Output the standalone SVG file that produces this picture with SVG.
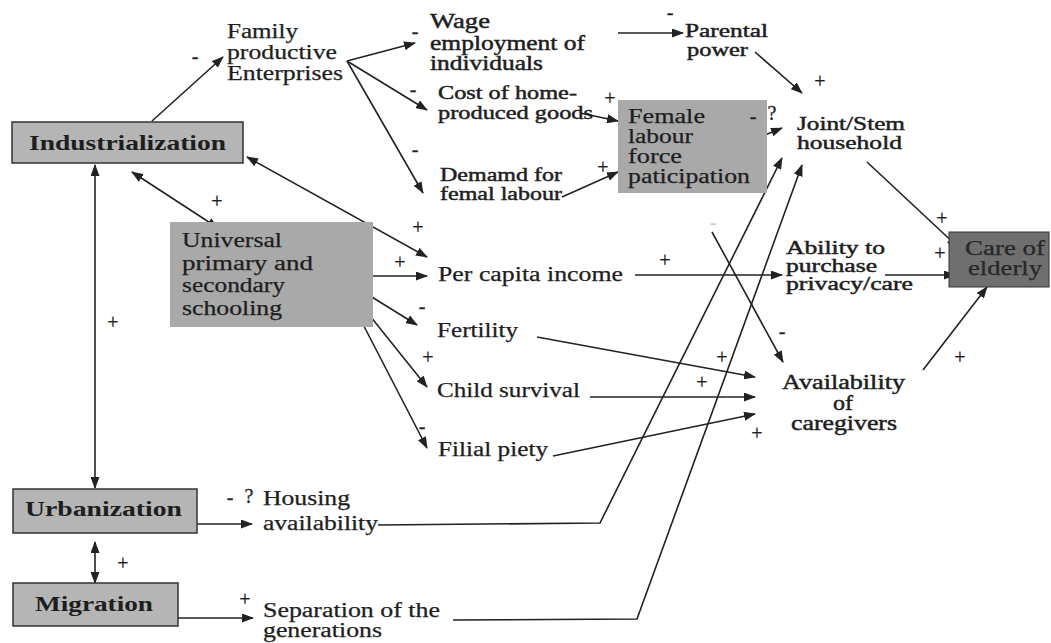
<svg xmlns="http://www.w3.org/2000/svg" width="1051" height="643" viewBox="0 0 1051 643">
<style>
text{font-family:"Liberation Serif","Times New Roman",serif;fill:#1e1e1e}
.t{font-size:20px;stroke:#1e1e1e;stroke-width:0.25}
.m{font-size:20px;stroke:#1e1e1e;stroke-width:0.45}
.n{font-size:18px}
.b{font-size:21px;font-weight:bold}
.s{font-size:20px;text-anchor:middle;dominant-baseline:central;stroke:#1e1e1e;stroke-width:0.3}
.ln{fill:none;stroke:#222;stroke-width:1.6}
.a{marker-end:url(#ah)}
.d{marker-start:url(#ah);marker-end:url(#ah)}
.boxL{fill:#b5b5b5;stroke:#333;stroke-width:1.5}
.boxM{fill:#a9a9a9}
.boxD{fill:#6f6f6f;stroke:#333;stroke-width:1}
</style>
<defs>
<marker id="ah" markerUnits="userSpaceOnUse" markerWidth="12" markerHeight="9" refX="11" refY="4.5" orient="auto-start-reverse">
<path d="M0,0 L12,4.5 L0,9 z" fill="#222"/>
</marker>
</defs>
<rect width="1051" height="643" fill="#fff"/>

<g id="connectors">
<line class="ln a" x1="152" y1="121" x2="223" y2="57"/>
<line class="ln a" x1="347" y1="61" x2="415" y2="43"/>
<line class="ln a" x1="347" y1="61" x2="427" y2="110"/>
<line class="ln a" x1="347" y1="61" x2="423" y2="193"/>
<line class="ln a" x1="618" y1="33" x2="683" y2="33"/>
<line class="ln a" x1="755" y1="52" x2="802" y2="93"/>
<line class="ln a" x1="580" y1="113" x2="618" y2="121"/>
<line class="ln a" x1="562" y1="197" x2="618" y2="172"/>
<line class="ln a" x1="720" y1="153" x2="782" y2="128"/>
<polyline class="ln a" points="378,525 600,523 782,158"/>
<polyline class="ln a" points="453,620 637,619 802,165"/>
<line class="ln a" x1="867" y1="162" x2="958" y2="247"/>
<line class="ln d" x1="247" y1="157" x2="427" y2="257"/>
<line class="ln d" x1="132" y1="172" x2="218" y2="228"/>
<line class="ln d" x1="95" y1="165" x2="95" y2="488"/>
<line class="ln d" x1="95" y1="542" x2="95" y2="583"/>
<line class="ln a" x1="197" y1="524" x2="252" y2="524"/>
<line class="ln a" x1="178" y1="618" x2="253" y2="618"/>
<line class="ln a" x1="338" y1="276" x2="427" y2="276"/>
<line class="ln a" x1="338" y1="276" x2="417" y2="325"/>
<line class="ln a" x1="338" y1="276" x2="427" y2="387"/>
<line class="ln a" x1="338" y1="276" x2="427" y2="448"/>
<line class="ln a" x1="635" y1="275" x2="782" y2="275"/>
<line class="ln a" x1="885" y1="275" x2="955" y2="275"/>
<line class="ln a" x1="537" y1="337" x2="755" y2="377"/>
<line class="ln a" x1="590" y1="397" x2="755" y2="397"/>
<line class="ln a" x1="553" y1="456" x2="755" y2="414"/>
<line class="ln a" x1="712" y1="232" x2="783" y2="362"/>
<line class="ln a" x1="923" y1="370" x2="987" y2="287"/>
</g>

<g id="industrialization">
<rect class="boxL" x="12" y="122" width="231" height="41"/>
<text class="b" x="29" y="150" textLength="197" lengthAdjust="spacingAndGlyphs">Industrialization</text>
</g>
<g id="family">
<text class="t" x="227" y="38" textLength="71" lengthAdjust="spacingAndGlyphs">Family</text>
<text class="t" x="227" y="59" textLength="110" lengthAdjust="spacingAndGlyphs">productive</text>
<text class="t" x="227" y="80" textLength="116" lengthAdjust="spacingAndGlyphs">Enterprises</text>
</g>
<g id="wage">
<text class="m" x="430" y="28" textLength="60" lengthAdjust="spacingAndGlyphs">Wage</text>
<text class="m" x="430" y="50" textLength="155" lengthAdjust="spacingAndGlyphs">employment of</text>
<text class="m" x="430" y="70" textLength="113" lengthAdjust="spacingAndGlyphs">individuals</text>
</g>
<g id="cost">
<text class="m n" x="438" y="99" textLength="139" lengthAdjust="spacingAndGlyphs">Cost of home-</text>
<text class="m n" x="438" y="119" textLength="155" lengthAdjust="spacingAndGlyphs">produced goods</text>
</g>
<g id="demand">
<text class="m n" x="440" y="181" textLength="122" lengthAdjust="spacingAndGlyphs">Demamd for</text>
<text class="m n" x="440" y="200" textLength="122" lengthAdjust="spacingAndGlyphs">femal labour</text>
</g>
<g id="female">
<rect class="boxM" x="618" y="100" width="149" height="93"/>
<text class="t" x="628" y="123" textLength="77" lengthAdjust="spacingAndGlyphs">Female</text>
<text class="t" x="628" y="143" textLength="65" lengthAdjust="spacingAndGlyphs">labour</text>
<text class="t" x="628" y="163" textLength="54" lengthAdjust="spacingAndGlyphs">force</text>
<text class="t" x="628" y="183" textLength="122" lengthAdjust="spacingAndGlyphs">paticipation</text>
</g>
<g id="parental">
<text class="m n" x="685" y="37" textLength="83" lengthAdjust="spacingAndGlyphs">Parental</text>
<text class="m n" x="687" y="56" textLength="61" lengthAdjust="spacingAndGlyphs">power</text>
</g>
<g id="joint">
<text class="m n" x="797" y="130" textLength="108" lengthAdjust="spacingAndGlyphs">Joint/Stem</text>
<text class="m n" x="797" y="149" textLength="105" lengthAdjust="spacingAndGlyphs">household</text>
</g>
<g id="ability">
<text class="m n" x="786" y="254" textLength="99" lengthAdjust="spacingAndGlyphs">Ability to</text>
<text class="m n" x="786" y="272" textLength="91" lengthAdjust="spacingAndGlyphs">purchase</text>
<text class="m n" x="786" y="290" textLength="127" lengthAdjust="spacingAndGlyphs">privacy/care</text>
</g>
<g id="care">
<rect class="boxD" x="949" y="232" width="100" height="55"/>
<text class="t" x="965" y="255" textLength="80" lengthAdjust="spacingAndGlyphs" style="fill:#2a2a2a">Care of</text>
<text class="t" x="968" y="275" textLength="74" lengthAdjust="spacingAndGlyphs" style="fill:#2a2a2a">elderly</text>
</g>
<g id="availability">
<text class="m" x="782" y="389" textLength="123" lengthAdjust="spacingAndGlyphs">Availability</text>
<text class="m" x="833" y="410" textLength="20" lengthAdjust="spacingAndGlyphs">of</text>
<text class="m" x="791" y="430" textLength="106" lengthAdjust="spacingAndGlyphs">caregivers</text>
</g>
<g id="schooling">
<rect class="boxM" x="170" y="222" width="203" height="105"/>
<text class="t" x="182" y="247" textLength="100" lengthAdjust="spacingAndGlyphs">Universal</text>
<text class="t" x="182" y="270" textLength="131" lengthAdjust="spacingAndGlyphs">primary  and</text>
<text class="t" x="182" y="292" textLength="103" lengthAdjust="spacingAndGlyphs">secondary</text>
<text class="t" x="182" y="315" textLength="100" lengthAdjust="spacingAndGlyphs">schooling</text>
</g>
<g id="income"><text class="t" x="438" y="281" textLength="185" lengthAdjust="spacingAndGlyphs">Per capita income</text></g>
<g id="fertility"><text class="t" x="437" y="337" textLength="81" lengthAdjust="spacingAndGlyphs">Fertility</text></g>
<g id="survival"><text class="t" x="437" y="397" textLength="143" lengthAdjust="spacingAndGlyphs">Child survival</text></g>
<g id="piety"><text class="t" x="438" y="456" textLength="110" lengthAdjust="spacingAndGlyphs">Filial piety</text></g>
<g id="housing">
<text class="t" x="263" y="505" textLength="87" lengthAdjust="spacingAndGlyphs">Housing</text>
<text class="t" x="263" y="530" textLength="115" lengthAdjust="spacingAndGlyphs">availability</text>
</g>
<g id="separation">
<text class="t" x="263" y="617" textLength="177" lengthAdjust="spacingAndGlyphs">Separation of the</text>
<text class="t" x="263" y="637" textLength="119" lengthAdjust="spacingAndGlyphs">generations</text>
</g>
<g id="urbanization">
<rect class="boxL" x="13" y="489" width="184" height="44"/>
<text class="b" x="25" y="516" textLength="157" lengthAdjust="spacingAndGlyphs">Urbanization</text>
</g>
<g id="migration">
<rect class="boxL" x="13" y="583" width="165" height="43"/>
<text class="b" x="35" y="611" textLength="118" lengthAdjust="spacingAndGlyphs">Migration</text>
</g>

<g id="signs">
<text class="s" x="195" y="56">-</text>
<text class="s" x="415" y="31">-</text>
<text class="s" x="413" y="89">-</text>
<text class="s" x="415" y="149">-</text>
<text class="s" x="610" y="98">+</text>
<text class="s" x="603" y="167">+</text>
<text class="s" x="670" y="12">-</text>
<text class="s" x="820" y="81">+</text>
<text class="s" x="753" y="116">-</text>
<text class="s" x="772" y="113">?</text>
<text class="s" x="942" y="218">+</text>
<text class="s" x="940" y="253">+</text>
<text class="s" x="960" y="357">+</text>
<text class="s" x="665" y="260">+</text>
<text class="s" x="713" y="222" style="fill:#c8c8c8;stroke:none">-</text>
<text class="s" x="782" y="331">-</text>
<text class="s" x="722" y="357">+</text>
<text class="s" x="702" y="382">+</text>
<text class="s" x="757" y="433">+</text>
<text class="s" x="400" y="262">+</text>
<text class="s" x="422" y="306">-</text>
<text class="s" x="428" y="357">+</text>
<text class="s" x="422" y="426">-</text>
<text class="s" x="418" y="227">+</text>
<text class="s" x="217" y="201">+</text>
<text class="s" x="113" y="322">+</text>
<text class="s" x="123" y="563">+</text>
<text class="s" x="230" y="497">-</text>
<text class="s" x="249" y="496">?</text>
<text class="s" x="245" y="599">+</text>
</g>
</svg>
